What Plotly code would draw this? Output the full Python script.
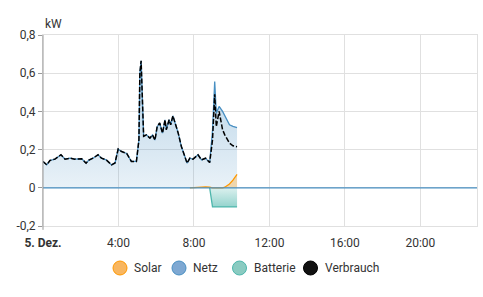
import plotly.graph_objects as go
import pandas as pd

DAY = "2023-12-05 "

times = ["00:00","00:12","00:22","00:38","00:57","01:10","01:26","01:41","02:03","02:17",
         "02:26","02:39","02:55","03:06","03:22","03:38","03:49","03:59","04:10","04:26",
         "04:41","04:57","05:05","05:08","05:12","05:17","05:20","05:29","05:40","05:48",
         "05:56","06:03","06:11","06:20","06:28","06:32","06:41","06:46","06:53","07:10",
         "07:20","07:31","07:38","07:47","07:57","08:13","08:24","08:37","08:50","08:59",
         "09:06","09:11","09:20","09:31","09:38","09:53","10:04","10:17"]

verbrauch = [0.138,0.12,0.143,0.15,0.173,0.15,0.155,0.15,0.152,0.129,
             0.145,0.155,0.173,0.155,0.145,0.12,0.13,0.203,0.19,0.18,
             0.138,0.138,0.25,0.6,0.665,0.426,0.27,0.277,0.26,0.277,
             0.25,0.32,0.339,0.286,0.356,0.304,0.356,0.33,0.377,0.286,
             0.216,0.164,0.129,0.155,0.15,0.173,0.146,0.155,0.132,0.25,
             0.49,0.32,0.4,0.304,0.277,0.234,0.22,0.215]

netz = [0.138,0.12,0.143,0.15,0.173,0.15,0.155,0.15,0.152,0.129,
        0.145,0.155,0.173,0.155,0.145,0.12,0.13,0.203,0.19,0.18,
        0.138,0.138,0.25,0.6,0.665,0.426,0.27,0.277,0.26,0.277,
        0.25,0.32,0.339,0.286,0.356,0.304,0.356,0.33,0.377,0.286,
        0.216,0.164,0.129,0.155,0.15,0.173,0.146,0.155,0.132,0.30,
        0.556,0.39,0.426,0.40,0.38,0.33,0.322,0.315]

batterie_times = ["08:50","08:59","09:06","09:11","09:20","09:31","09:38","09:53","10:04","10:17"]
batterie = [0.0,-0.1,-0.1,-0.1,-0.1,-0.1,-0.1,-0.1,-0.1,-0.1]

solar_times = ["07:47","08:13","08:37","08:50","08:59","09:31","09:38","09:53","10:04","10:17"]
solar = [0.0,0.003,0.005,0.003,0.0,0.0,0.003,0.02,0.04,0.07]

tick_hours = ["00:00","04:00","08:00","12:00","16:00","20:00"]
tick_labels = ["<b>5. Dez.</b>","4:00","8:00","12:00","16:00","20:00"]
y_ticks = [-0.2, 0, 0.2, 0.4, 0.6, 0.8]
y_labels = ["-0,2", "0", "0,2", "0,4", "0,6", "0,8"]

legend_names = ["Solar", "Netz", "Batterie", "Verbrauch"]
legend_fill = ["#f8b660", "#7ea8d2", "#8acbc1", "#111111"]
legend_line = ["#ff9800", "#488fc2", "#4db6ac", "#000000"]

# page geometry (pixels)
W, H = 483, 297
ML, MR, MT, MB = 43, 6, 35, 71
PW, PH = W - ML - MR, H - MT - MB
legend_circle_px = [120, 179, 239.5, 310.5]
legend_y_px = 268


def ts(lst):
    return pd.to_datetime([DAY + t for t in lst])


def px_x(p):
    return (p - ML) / PW


def px_y(p):
    return (H - MB - p) / PH


fig = go.Figure()

fig.add_trace(go.Scatter(
    x=ts(times), y=netz, mode="lines", name="Netz", showlegend=False,
    line=dict(color="#488fc2", width=1.3),
    fill="tozeroy",
    fillgradient=dict(type="vertical", start=0, stop=0.6,
                      colorscale=[[0, "rgba(72,143,194,0.12)"], [1, "rgba(72,143,194,0.38)"]]),
))
fig.add_trace(go.Scatter(
    x=ts(batterie_times), y=batterie, mode="lines", name="Batterie", showlegend=False,
    line=dict(color="#4db6ac", width=1.3),
    fill="tozeroy",
    fillgradient=dict(type="vertical", start=-0.1, stop=0,
                      colorscale=[[0, "rgba(77,182,172,0.6)"], [1, "rgba(77,182,172,0.2)"]]),
))
fig.add_trace(go.Scatter(
    x=ts(solar_times), y=solar, mode="lines", name="Solar", showlegend=False,
    line=dict(color="#ff9800", width=1.3),
    fill="tozeroy", fillcolor="rgba(255,152,0,0.3)",
))
fig.add_trace(go.Scatter(
    x=ts(times), y=verbrauch, mode="lines", name="Verbrauch", showlegend=False,
    line=dict(color="#000000", width=1.5, dash="5px,2px"),
))

shapes = [
    # blue zero line across the plot
    dict(type="line", xref="paper", yref="y", x0=0, x1=1, y0=0, y1=0,
         line=dict(color="#488fc2", width=1.2), layer="above"),
    # darker left axis line
    dict(type="line", xref="paper", yref="paper", x0=0, x1=0, y0=-0.02, y1=1,
         line=dict(color="#999999", width=1), layer="above"),
]
annotations = [dict(text="kW", x=0, y=1, xref="paper", yref="paper",
                    xanchor="left", yanchor="bottom", yshift=2, showarrow=False,
                    font=dict(size=12, color="#333333"))]

r = 7
for n, fc, lc, cx in zip(legend_names, legend_fill, legend_line, legend_circle_px):
    shapes.append(dict(type="circle", xref="paper", yref="paper",
                       xsizemode="pixel", ysizemode="pixel",
                       xanchor=px_x(cx), yanchor=px_y(legend_y_px),
                       x0=-r, x1=r, y0=-r, y1=r,
                       fillcolor=fc, line=dict(color=lc, width=1), layer="above"))
    annotations.append(dict(text=n, xref="paper", yref="paper",
                            x=px_x(cx + r + 5), y=px_y(legend_y_px),
                            xanchor="left", yanchor="middle", showarrow=False,
                            font=dict(size=12, color="#333333")))

fig.update_layout(
    width=W, height=H,
    margin=dict(l=ML, r=MR, t=MT, b=MB),
    paper_bgcolor="white", plot_bgcolor="white",
    font=dict(family="Roboto", size=12, color="#333333"),
    showlegend=False,
    xaxis=dict(
        type="date",
        range=[DAY + "00:00", DAY + "23:00"],
        tickvals=ts(tick_hours), ticktext=tick_labels,
        showgrid=True, gridcolor="#e0e0e0", gridwidth=1,
        showline=True, mirror=True, linecolor="#e0e0e0",
        zeroline=False, tickfont=dict(size=12, color="#333333"),
        ticks="outside", ticklen=6, tickcolor="rgba(0,0,0,0)",
    ),
    yaxis=dict(
        range=[-0.2, 0.8],
        tickvals=y_ticks, ticktext=y_labels,
        showgrid=True, gridcolor="#e0e0e0", gridwidth=1,
        showline=True, mirror=True, linecolor="#e0e0e0",
        zeroline=False,
        ticks="outside", ticklen=4, tickcolor="#999999",
        tickfont=dict(size=12, color="#333333"),
    ),
    annotations=annotations,
    shapes=shapes,
)

fig.write_html("out.html")
